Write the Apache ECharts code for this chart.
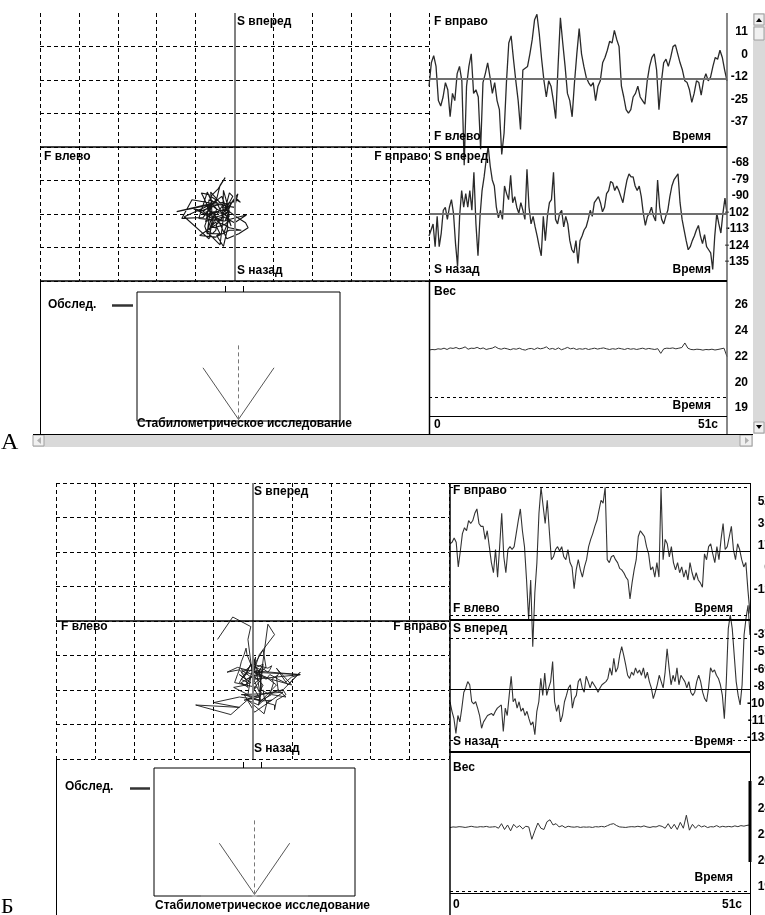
<!DOCTYPE html>
<html>
<head>
<meta charset="utf-8">
<title>Стабилометрическое исследование</title>
<style>
    body { margin:0; padding:0; background-color:white; }
    #main { width:765px; height:915px; }
</style>
</head>
<body>
<div id="main"></div>
<script src="https://cdn.jsdelivr.net/npm/echarts@6/dist/echarts.min.js"></script>
<script>
// ---- данные ----
// А: фронтальная составляющая (F), сагиттальная (S), вес
var fA = [-16,-3,1,-5,-24,-27,-22,-14,-18,-33, -20,-24,-9,-5,-13,-60,-16,-5,2,-20,
    -18,-22,-51,-14,-9,-3,-11,-20,-14,-24, -29,-54,-42,-14,8,12,-1,-13,-24,-40,
    -7,-6,-5,2,10,21,24,13,-1,-13, -22,-13,-16,-24,-34,-5,22,8,-5,-20,
    -24,-33,-14,2,16,2,-5,-11,-14,-16, -14,-24,-16,-13,-3,0,4,9,8,15,
    10,6,-16,-22,-29,-31,-29,-22,-20,-16, -22,-24,-26,-13,-5,0,2,-7,-29,-14,
    -3,-1,-5,0,6,7,2,-3,-7,-13, -14,-18,-25,-20,-13,-14,-21,-13,-9,-13,
    -11,-5,0,-1,4,0,-7,-13];
var sA = [-117,-113,-109,-124,-104,-124,-115,-100,-98,-106, -98,-93,-102,-122,-137,-104,-87,-98,-89,-98,
    -87,-100,-75,-109,-130,-104,-87,-78,-67,-58, -71,-80,-84,-98,-105,-100,-106,-84,-89,-93,
    -77,-95,-91,-98,-102,-95,-100,-106,-73,-98, -109,-104,-111,-117,-124,-130,-104,-120,-104,-95,
    -93,-75,-106,-109,-102,-100,-111,-104,-109,-120, -126,-128,-120,-135,-120,-117,-113,-111,-106,-100,
    -104,-95,-93,-91,-95,-101,-98,-89,-87,-81, -82,-87,-84,-87,-91,-95,-87,-80,-76,-78,
    -78,-84,-87,-84,-91,-102,-110,-104,-102,-98, -104,-107,-80,-98,-106,-109,-104,-100,-91,-84,
    -80,-78,-76,-95,-106,-113,-120,-126,-124,-120, -117,-113,-110,-117,-122,-116,-124,-126,-128,-139,
    -117,-102,-109,-115,-102,-92,-102];
var wA = [22.45,22.5,22.48,22.55,22.52,22.6,22.5,22.62,22.58,22.65, 22.55,22.6,22.7,22.52,22.6,22.58,22.66,22.55,22.62,22.5,
    22.56,22.6,22.72,22.58,22.52,22.6,22.55,22.48,22.56,22.52, 22.6,22.5,22.45,22.55,22.58,22.5,22.62,22.55,22.6,22.7,
    22.52,22.58,22.5,22.62,22.48,22.56,22.66,22.55,22.6,22.5, 22.56,22.52,22.58,22.5,22.55,22.6,22.53,22.58,22.62,22.55,
    22.5,22.56,22.52,22.6,22.55,22.5,22.58,22.52,22.56,22.5, 22.55,22.6,22.52,22.58,22.54,22.5,22.56,22.2,22.55,22.6,
    22.58,22.62,22.55,22.6,22.65,23.0,22.6,22.5,22.48,22.52, 22.5,22.45,22.5,22.48,22.52,22.46,22.5,22.55,22.6,21.95];

// Б
var fB = [22,23,26,23,6,17,29,33,31,38, 36,38,43,46,36,34,34,25,31,20,
    9,2,18,-1,20,43,13,2,18,20, 18,20,29,38,46,31,20,-3,-30,-3,
    -49,-12,9,43,61,48,36,52,31,11, 13,18,20,17,20,13,11,18,9,6,
    -9,4,11,4,-1,6,11,20,25,29, 34,38,45,52,50,61,11,9,13,14,
    11,9,5,4,2,-1,-3,-16,-5,4, 11,27,31,29,27,20,15,4,6,-1,
    9,-1,61,11,25,22,13,20,9,4, 9,2,6,-1,4,-3,9,2,-3,2,
    -3,-5,-8,15,11,20,22,15,9,20, 11,25,36,18,20,27,34,18,11,22,
    18,11,6,9,-10,-26];
var sB = [-97,-106,-113,-127,-110,-116,-103,-88,-84,-78, -81,-97,-99,-97,-103,-110,-122,-116,-113,-110,
    -111,-108,-110,-106,-103,-102,-100,-125,-103,-110, -91,-73,-97,-94,-103,-97,-106,-103,-110,-106,
    -113,-119,-116,-128,-106,-97,-75,-91,-70,-91, -84,-78,-59,-97,-106,-100,-116,-110,-97,-91,
    -84,-81,-103,-94,-91,-78,-75,-84,-88,-73, -78,-84,-78,-81,-84,-88,-84,-81,-81,-78,
    -75,-65,-72,-56,-69,-65,-53,-45,-53,-62, -72,-75,-69,-72,-65,-70,-67,-72,-65,-75,
    -69,-78,-84,-94,-88,-81,-72,-78,-84,-69, -47,-65,-81,-72,-78,-65,-81,-72,-75,-78,
    -84,-78,-88,-91,-88,-78,-72,-78,-88,-94, -97,-84,-65,-69,-67,-72,-75,-81,-91,-113,
    -78,-28,-15,-28,-53,-78,-91,-100,-81,-34, -18,-6,-34];
var wB = [22.65,22.7,22.68,22.72,22.7,22.66,22.7,22.75,22.7,22.68,22.72,22.7,22.74,22.68,22.7,22.72,
    22.6,22.95,22.5,22.85,22.4,22.9,22.65,22.8,22.55,22.75,22.7,21.75,22.4,23.0,22.6,
    22.5,23.1,23.25,22.85,22.95,22.7,22.8,22.65,22.75,22.7,22.68,22.72,22.66,22.7,22.68,
    22.7,22.66,22.72,22.7,22.74,22.7,22.8,22.9,22.95,22.8,22.7,22.68,22.66,22.7,22.72,22.7,22.75,22.7,22.78,22.7,22.66,22.72,22.7,22.8,22.74,
    22.6,22.95,22.55,22.9,22.5,23.05,22.6,23.6,22.45,22.9,22.6,22.85,22.7,22.78,22.65,22.72,22.7,22.8,22.68,22.75,
    22.7,22.74,22.7,22.78,22.72,22.8,22.76,22.82,22.85];

// подписи шкал (снизу вверх)
var ticksFA = ['-37', '-25', '-12', '0', '11'];
var ticksSA = ['-135', '-124', '-113', '-102', '-90', '-79', '-68'];
var ticksWA = ['19', '20', '22', '24', '26'];
var ticksFB = ['-12', '0', '17', '35', '52'];
var ticksSB = ['-133', '-117', '-101', '-85', '-69', '-53', '-37'];
var ticksWB = ['19', '20', '22', '24', '26'];

// средние и граничные уровни
var meanFA = -12, meanSA = -102, meanFB = 17, meanSB = -85;
var limFB = [-27, 61], limSB = [-133, -37];
var baseWA = 18.8, baseWB = 17.75;

// схема стоп
var footV = [[-1.05, 1.65], [0, 0.05], [1.05, 1.65]];
var footMid = [[0, 0.05], [0, 2.4]];
var footBase = [[-1.6, 0], [1.6, 0]];
var footDot = [[0, 0.08]];

// ---- построение ----
var FONT = '"Liberation Sans", Arial, sans-serif';
var grids = [], xAxes = [], yAxes = [], series = [], graphics = [];

function addGrid(b) {
    grids.push({left: b.left, top: b.top, width: b.width, height: b.height, containLabel: false});
    return grids.length - 1;
}
function hiddenAxis(gi, min, max) {
    return {type: 'value', gridIndex: gi, min: min, max: max, show: false};
}
function lastX() { return xAxes.length - 1; }
function lastY() { return yAxes.length - 1; }

function timeChart(b, values, range, color, width, marks) {
    var gi = addGrid(b);
    xAxes.push(hiddenAxis(gi, 0, values.length - 1));
    yAxes.push(hiddenAxis(gi, range[0], range[1]));
    series.push({
        type: 'line', xAxisIndex: lastX(), yAxisIndex: lastY(),
        data: values.map(function(v, i) { return [i, v]; }),
        showSymbol: false, symbol: 'none', clip: false,
        lineStyle: {color: color, width: width},
        markLine: {symbol: 'none', silent: true, label: {show: false}, data: marks}
    });
}

function tickColumn(right, top, bottom, labels) {
    var gi = addGrid({left: right + 4, top: top, width: 1, height: bottom - top});
    xAxes.push({type: 'value', gridIndex: gi, show: false, min: 0, max: 1});
    yAxes.push({
        type: 'category', gridIndex: gi, data: labels, boundaryGap: false,
        axisLine: {show: false}, axisTick: {show: false}, splitLine: {show: false},
        axisLabel: {interval: 0, margin: 4, color: '#000', fontWeight: 'bold', fontSize: 12, fontFamily: FONT}
    });
}

function stabChart(b, fs, ss, xr, yr, hideTop, lw) {
    var gi = addGrid(b);
    var dash = {color: '#000', width: 1, type: [4, 3]};
    xAxes.push({type: 'value', gridIndex: gi, min: -180, max: 180, interval: 36,
        axisLine: {show: false}, axisTick: {show: false}, axisLabel: {show: false},
        splitLine: {show: true, lineStyle: dash}});
    var gx = lastX();
    yAxes.push({type: 'value', gridIndex: gi, min: -200, max: 200, interval: 50,
        axisLine: {show: false}, axisTick: {show: false}, axisLabel: {show: false},
        splitLine: {show: true, showMaxLine: !hideTop, lineStyle: dash}});
    var gy = lastY();
    xAxes.push(hiddenAxis(gi, xr[0], xr[1]));
    yAxes.push(hiddenAxis(gi, yr[0], yr[1]));
    var pts = fs.map(function(f, i) {
        var j = Math.round(i * (ss.length - 1) / (fs.length - 1));
        return [f, ss[j]];
    });
    series.push({type: 'line', xAxisIndex: lastX(), yAxisIndex: lastY(), data: pts,
        showSymbol: false, symbol: 'none', clip: false, z: 3,
        lineStyle: {color: '#161616', width: lw}});
    series.push({type: 'line', xAxisIndex: gx, yAxisIndex: gy, data: [],
        markLine: {symbol: 'none', silent: true, label: {show: false}, data: [
            {xAxis: 0, lineStyle: {color: '#808080', width: 2, type: 'solid'}},
            {yAxis: 0, lineStyle: {color: '#000', width: 1.5, type: 'solid'}}
        ]}});
}

function footChart(b, withBase) {
    var gi = addGrid(b);
    grids[gi].show = true;
    grids[gi].borderColor = '#000';
    grids[gi].borderWidth = 1;
    xAxes.push(hiddenAxis(gi, -3, 3));
    yAxes.push(hiddenAxis(gi, 0, 4));
    var xi = lastX(), yi = lastY();
    if (withBase) {
        series.push({type: 'line', xAxisIndex: xi, yAxisIndex: yi, data: footBase,
            showSymbol: false, symbol: 'none', lineStyle: {color: '#999', width: 1.5}});
        series.push({type: 'scatter', xAxisIndex: xi, yAxisIndex: yi, data: footDot,
            symbol: 'emptyCircle', symbolSize: 5, itemStyle: {color: '#fff', borderColor: '#333', borderWidth: 1}});
    }
    series.push({type: 'line', xAxisIndex: xi, yAxisIndex: yi, data: footV,
        showSymbol: false, symbol: 'none', lineStyle: {color: '#555', width: 1}});
    series.push({type: 'line', xAxisIndex: xi, yAxisIndex: yi, data: footMid,
        showSymbol: false, symbol: 'none', lineStyle: {color: '#777', width: 1, type: [4, 3]}});
}

function txt(x, y, s, align, bg, font) {
    graphics.push({type: 'text', x: x, y: y, z: 100,
        style: {text: s, font: font || ('bold 12px ' + FONT), fill: '#000',
            align: align || 'left', verticalAlign: 'top', backgroundColor: bg || null}});
}
function ln(x1, y1, x2, y2, color, w) {
    graphics.push({type: 'line', z: 90, shape: {x1: x1, y1: y1, x2: x2, y2: y2},
        style: {stroke: color, lineWidth: w}});
}
function rect(x, y, w, h, fill, stroke) {
    graphics.push({type: 'rect', z: 80, shape: {x: x, y: y, width: w, height: h},
        style: {fill: fill, stroke: stroke || null, lineWidth: 1}});
}
function tri(points, fill) {
    graphics.push({type: 'polygon', z: 95, shape: {points: points}, style: {fill: fill}});
}

var mean = function(v, c, w) { return {yAxis: v, lineStyle: {color: c, width: w, type: 'solid'}}; };
var dashed = function(v) { return {yAxis: v, lineStyle: {color: '#000', width: 1, type: [3, 3]}}; };

// ===== А =====
stabChart({left: 40, top: 13, width: 389, height: 268}, fA, sA, [-220.8, 236.8], [-179.6, 135.6], true, 1.1);
timeChart({left: 429, top: 13, width: 298, height: 134}, fA, [-49.8, 24.7], '#2a2a2a', 1.3, [mean(meanFA, '#707070', 2)]);
timeChart({left: 429, top: 147, width: 298, height: 134}, sA, [-146.6, -58.3], '#2a2a2a', 1.3, [mean(meanSA, '#707070', 2)]);
timeChart({left: 429, top: 281, width: 298, height: 135}, wA, [17.38, 27.77], '#333', 1, [dashed(baseWA)]);
footChart({left: 137, top: 292, width: 203, height: 129}, false);
tickColumn(748, 32, 122, ticksFA);
tickColumn(749, 163, 262, ticksSA);
tickColumn(748, 305, 408, ticksWA);

// ===== Б =====
stabChart({left: 56, top: 483, width: 393, height: 276}, fB, sB, [-196, 217.6], [-183.5, 161.5], false, 0.9);
timeChart({left: 450, top: 483, width: 300, height: 137}, fB, [-30.6, 63.9], '#333', 1.1,
    [mean(meanFB, '#000', 1), dashed(limFB[0]), dashed(limFB[1])]);
timeChart({left: 450, top: 620, width: 300, height: 132}, sB, [-144.4, -19.9], '#333', 1.1,
    [mean(meanSB, '#000', 1), dashed(limSB[0]), dashed(limSB[1])]);
timeChart({left: 450, top: 752, width: 300, height: 141}, wB, [17.62, 28.46], '#333', 1, [dashed(baseWB)]);
footChart({left: 154, top: 768, width: 201, height: 128}, true);
tickColumn(771, 502, 590, ticksFB);
tickColumn(771, 635, 738, ticksSB);
tickColumn(771, 782, 887, ticksWB);

// ---- рамки и подписи А ----
ln(40, 281, 429, 281, '#000', 1.5);
ln(40.5, 281, 40.5, 434, '#000', 1);
ln(429.5, 281, 429.5, 434, '#000', 1.5);
ln(727, 13, 727, 434, '#606060', 1.5);
ln(429, 147, 727, 147, '#000', 2);
ln(429, 281, 727, 281, '#000', 2);
ln(429, 416.5, 727, 416.5, '#000', 1);
ln(33, 434.5, 753, 434.5, '#000', 1);
ln(225.5, 286, 225.5, 292, '#000', 1);
ln(243.5, 286, 243.5, 292, '#000', 1);
ln(112, 305.5, 133, 305.5, '#333', 2.5);

txt(237, 16, 'S вперед');
txt(44, 151, 'F влево');
txt(428, 151, 'F вправо', 'right');
txt(237, 265, 'S назад');
txt(434, 16, 'F вправо');
txt(434, 131, 'F влево');
txt(711, 131, 'Время', 'right');
txt(434, 151, 'S вперед');
txt(434, 264, 'S назад');
txt(711, 264, 'Время', 'right');
txt(434, 286, 'Вес');
txt(711, 400, 'Время', 'right');
txt(434, 419, '0');
txt(718, 419, '51с', 'right');
txt(48, 299, 'Обслед.');
txt(137, 418, 'Стабилометрическое исследование');
graphics.push({type: 'text', x: 1, y: 455, z: 100,
    style: {text: 'А', font: '24px "Liberation Serif", serif', fill: '#000', verticalAlign: 'bottom'}});

// полосы прокрутки
rect(33, 435, 720, 12, '#d9d9d9');
rect(753, 13, 12, 421, '#d9d9d9');
rect(33, 435, 11, 11, '#f0f0f0', '#a0a0a0');
tri([[41, 437], [41, 444], [37, 440.5]], '#b0b0b0');
rect(740, 435, 12, 11, '#f0f0f0', '#a0a0a0');
tri([[745, 437], [745, 444], [749, 440.5]], '#b0b0b0');
rect(754, 14, 10, 11, '#f0f0f0', '#a0a0a0');
tri([[756, 22], [762, 22], [759, 18]], '#000');
rect(754, 27, 10, 13, '#f0f0f0', '#a0a0a0');
rect(754, 422, 10, 11, '#f0f0f0', '#a0a0a0');
tri([[756, 425], [762, 425], [759, 429]], '#000');

// ---- рамки и подписи Б ----
ln(56.5, 759, 56.5, 915, '#000', 1);
ln(450, 483, 450, 915, '#000', 1.5);
ln(750.5, 483, 750.5, 915, '#000', 1);
ln(750, 781, 750, 862, '#000', 3);
ln(450, 483.5, 750, 483.5, '#000', 1);
ln(450, 620, 750, 620, '#000', 2);
ln(450, 752, 750, 752, '#000', 2);
ln(450, 893.5, 750, 893.5, '#000', 1);
ln(243.5, 762, 243.5, 768, '#000', 1);
ln(261.5, 762, 261.5, 768, '#000', 1);
ln(130, 788.5, 150, 788.5, '#333', 2.5);

txt(254, 486, 'S вперед');
txt(61, 621, 'F влево');
txt(447, 621, 'F вправо', 'right');
txt(254, 743, 'S назад');
txt(453, 485, 'F вправо', 'left', '#fff');
txt(453, 603, 'F влево', 'left', '#fff');
txt(733, 603, 'Время', 'right', '#fff');
txt(453, 623, 'S вперед', 'left', '#fff');
txt(453, 736, 'S назад', 'left', '#fff');
txt(733, 736, 'Время', 'right', '#fff');
txt(453, 762, 'Вес');
txt(733, 872, 'Время', 'right', '#fff');
txt(453, 899, '0');
txt(742, 899, '51с', 'right');
txt(65, 781, 'Обслед.');
txt(155, 900, 'Стабилометрическое исследование');
graphics.push({type: 'text', x: 1, y: 918, z: 100,
    style: {text: 'Б', font: '22px "Liberation Serif", serif', fill: '#000', verticalAlign: 'bottom'}});

var myChart = echarts.init(document.getElementById('main'));
myChart.setOption({
    animation: false,
    backgroundColor: '#fff',
    grid: grids,
    xAxis: xAxes,
    yAxis: yAxes,
    series: series,
    graphic: {elements: graphics}
});
</script>
</body>
</html>
